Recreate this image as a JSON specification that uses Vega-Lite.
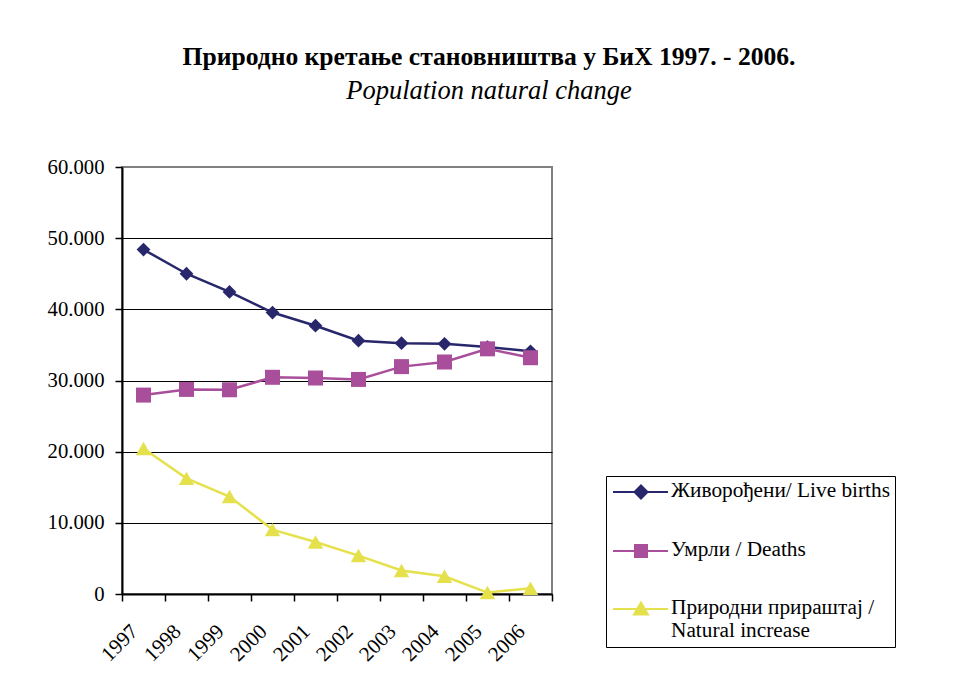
{
  "$schema": "https://vega.github.io/schema/vega-lite/v6.json",
  "width": 430,
  "height": 427,
  "autosize": {"type": "none"},
  "padding": {"left": 122, "top": 167, "right": 401, "bottom": 103},
  "background": "white",
  "title": {
    "text": "Природно кретање становништва у БиХ 1997. - 2006.",
    "subtitle": "Population natural change",
    "anchor": "middle",
    "frame": "group",
    "dx": 152,
    "offset": 52,
    "font": "Liberation Serif",
    "fontSize": 25.6,
    "fontWeight": "bold",
    "color": "black",
    "subtitleFont": "Liberation Serif",
    "subtitleFontSize": 26.5,
    "subtitleFontStyle": "italic",
    "subtitleColor": "black",
    "subtitlePadding": 7
  },
  "config": {
    "view": {"stroke": "#808080", "strokeWidth": 2},
    "font": "Liberation Serif"
  },
  "data": {
    "values": [
      {"year": "1997", "series": "Живорођени/ Live births", "value": 48400},
      {"year": "1998", "series": "Живорођени/ Live births", "value": 45000},
      {"year": "1999", "series": "Живорођени/ Live births", "value": 42450},
      {"year": "2000", "series": "Живорођени/ Live births", "value": 39550},
      {"year": "2001", "series": "Живорођени/ Live births", "value": 37700},
      {"year": "2002", "series": "Живорођени/ Live births", "value": 35600},
      {"year": "2003", "series": "Живорођени/ Live births", "value": 35250},
      {"year": "2004", "series": "Живорођени/ Live births", "value": 35150},
      {"year": "2005", "series": "Живорођени/ Live births", "value": 34700},
      {"year": "2006", "series": "Живорођени/ Live births", "value": 34100},
      {"year": "1997", "series": "Умрли / Deaths", "value": 27950},
      {"year": "1998", "series": "Умрли / Deaths", "value": 28750},
      {"year": "1999", "series": "Умрли / Deaths", "value": 28700},
      {"year": "2000", "series": "Умрли / Deaths", "value": 30450},
      {"year": "2001", "series": "Умрли / Deaths", "value": 30350},
      {"year": "2002", "series": "Умрли / Deaths", "value": 30150},
      {"year": "2003", "series": "Умрли / Deaths", "value": 31950},
      {"year": "2004", "series": "Умрли / Deaths", "value": 32600},
      {"year": "2005", "series": "Умрли / Deaths", "value": 34450},
      {"year": "2006", "series": "Умрли / Deaths", "value": 33200},
      {"year": "1997", "series": "Природни прираштај / Natural increase", "value": 20450},
      {"year": "1998", "series": "Природни прираштај / Natural increase", "value": 16250},
      {"year": "1999", "series": "Природни прираштај / Natural increase", "value": 13700},
      {"year": "2000", "series": "Природни прираштај / Natural increase", "value": 9050},
      {"year": "2001", "series": "Природни прираштај / Natural increase", "value": 7300},
      {"year": "2002", "series": "Природни прираштај / Natural increase", "value": 5400},
      {"year": "2003", "series": "Природни прираштај / Natural increase", "value": 3300},
      {"year": "2004", "series": "Природни прираштај / Natural increase", "value": 2500},
      {"year": "2005", "series": "Природни прираштај / Natural increase", "value": 200},
      {"year": "2006", "series": "Природни прираштај / Natural increase", "value": 800}
    ]
  },
  "encoding": {
    "x": {
      "field": "year",
      "type": "ordinal",
      "scale": {"paddingInner": 0, "paddingOuter": 0},
      "axis": {
        "title": null,
        "labelAngle": -45,
        "labelAlign": "right",
        "labelBaseline": "middle",
        "labelFont": "Liberation Serif",
        "labelFontSize": 21,
        "labelColor": "black",
        "labelPadding": 27,
        "labelOffset": -9,
        "tickBand": "extent",
        "tickSize": 7,
        "tickColor": "black",
        "tickWidth": 1.5,
        "domainColor": "black",
        "domainWidth": 2,
        "grid": false
      }
    },
    "y": {
      "field": "value",
      "type": "quantitative",
      "scale": {"domain": [0, 60000], "nice": false},
      "axis": {
        "title": null,
        "values": [0, 10000, 20000, 30000, 40000, 50000, 60000],
        "labelExpr": "replace(format(datum.value, ','), ',', '.')",
        "labelFont": "Liberation Serif",
        "labelFontSize": 20.7,
        "labelColor": "black",
        "labelPadding": 11,
        "tickSize": 7,
        "tickColor": "black",
        "tickWidth": 1.5,
        "domainColor": "black",
        "domainWidth": 2,
        "grid": true,
        "gridColor": {"condition": {"test": "datum.value === 60000", "value": "#808080"}, "value": "black"},
        "gridWidth": 1
      }
    },
    "color": {
      "field": "series",
      "type": "nominal",
      "scale": {
        "domain": ["Живорођени/ Live births", "Умрли / Deaths", "Природни прираштај / Natural increase"],
        "range": ["#28276B", "#A94E9A", "#E5E14D"]
      },
      "legend": {
        "orient": "none",
        "legendX": 484,
        "legendY": 309,
        "title": null,
        "padding": 5,
        "strokeColor": "black",
        "fillColor": "white",
        "rowPadding": 36,
        "labelFont": "Liberation Serif",
        "labelFontSize": 21.3,
        "labelColor": "black",
        "labelLimit": 400,
        "labelOffset": 38,
        "labelBaseline": "top",
        "symbolSize": 400,
        "labelExpr": "datum.label === 'Природни прираштај / Natural increase' ? ['Природни прираштај /', 'Natural increase'] : datum.label",
        "encode": {
          "labels": {"update": {"dy": {"value": -12}}},
          "symbols": {
            "update": {
              "shape": {"signal": "datum.value === 'Живорођени/ Live births' ? 'M-0.9,0H4.6M1.9,-0.65L2.55,0L1.9,0.65L1.25,0Z' : datum.value === 'Умрли / Deaths' ? 'M-0.9,0H4.6M1.3,-0.6H2.5V0.6H1.3Z' : 'M-0.9,0H4.6M1.9,-0.65L2.6,0.55L1.2,0.55Z'"},
              "fill": {"signal": "scale('color', datum.value)"},
              "stroke": {"signal": "scale('color', datum.value)"},
              "strokeWidth": {"value": 2},
              "size": {"value": 400},
              "opacity": {"value": 1}
            }
          }
        }
      }
    }
  },
  "layer": [
    {"mark": {"type": "line", "strokeWidth": 2.5}},
    {
      "mark": {"type": "point", "filled": true, "opacity": 1},
      "encoding": {
        "shape": {
          "condition": [
            {"test": "datum.series === 'Живорођени/ Live births'", "value": "diamond"},
            {"test": "datum.series === 'Умрли / Deaths'", "value": "square"}
          ],
          "value": "triangle-up"
        },
        "size": {
          "condition": [
            {"test": "datum.series === 'Живорођени/ Live births'", "value": 190},
            {"test": "datum.series === 'Умрли / Deaths'", "value": 225}
          ],
          "value": 240
        }
      }
    }
  ]
}
